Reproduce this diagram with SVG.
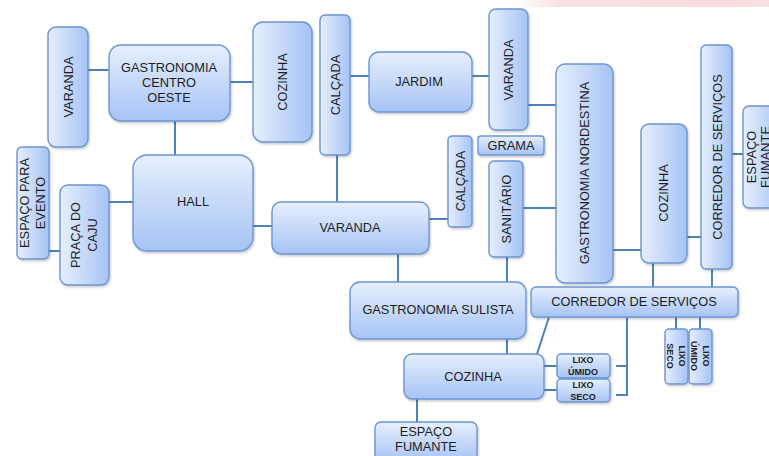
<svg xmlns="http://www.w3.org/2000/svg" width="769" height="456" viewBox="0 0 769 456">
<defs>
<linearGradient id="gv" x1="0" y1="0" x2="1" y2="0"><stop offset="0" stop-color="#e6effd"/><stop offset="1" stop-color="#a6c3f4"/></linearGradient>
<linearGradient id="gh" x1="0" y1="0" x2="0" y2="1"><stop offset="0" stop-color="#e6effd"/><stop offset="1" stop-color="#a6c3f4"/></linearGradient>
<linearGradient id="pink" x1="0" y1="0" x2="1" y2="0"><stop offset="0" stop-color="#f3c0c0" stop-opacity="0"/><stop offset="0.2" stop-color="#f6c9c4" stop-opacity="0.6"/><stop offset="1" stop-color="#f8cfcf" stop-opacity="0.7"/></linearGradient>
<filter id="sh" x="-10%" y="-10%" width="130%" height="130%"><feDropShadow dx="1" dy="1.5" stdDeviation="1" flood-color="#000" flood-opacity="0.22"/></filter>
</defs>
<style>
.v{fill:url(#gv);stroke:#6b95d2;stroke-width:1.4;filter:url(#sh)}
.h{fill:url(#gh);stroke:#6b95d2;stroke-width:1.4;filter:url(#sh)}
text{font-family:"Liberation Sans",Arial,sans-serif;font-size:12.8px;fill:#1e1e1e;text-anchor:middle}
.s{font-size:9px;font-weight:bold}
#connectors line,#connectors polyline{stroke:#4f81bd;stroke-width:2;fill:none}
</style>
<rect x="515" y="0" width="254" height="7" fill="url(#pink)"/>
<g id="connectors">
<line x1="88" y1="70" x2="109" y2="70"/>
<line x1="230" y1="82" x2="253" y2="82"/>
<line x1="175" y1="121" x2="175" y2="155"/>
<line x1="350" y1="76" x2="369" y2="76"/>
<line x1="472" y1="76" x2="489" y2="76"/>
<line x1="528" y1="105" x2="556" y2="105"/>
<line x1="337" y1="155" x2="337" y2="202"/>
<line x1="253" y1="226" x2="272" y2="226"/>
<line x1="109" y1="202" x2="133" y2="202"/>
<line x1="49" y1="251" x2="60" y2="251"/>
<line x1="429" y1="219" x2="448" y2="219"/>
<line x1="398" y1="254" x2="398" y2="282"/>
<line x1="507" y1="257" x2="507" y2="282"/>
<line x1="523" y1="208" x2="556" y2="208"/>
<line x1="610" y1="250" x2="641" y2="250"/>
<line x1="687" y1="237" x2="701" y2="237"/>
<line x1="732" y1="154" x2="743" y2="154"/>
<line x1="653" y1="263" x2="653" y2="287"/>
<line x1="712" y1="269" x2="712" y2="287"/>
<line x1="676" y1="317" x2="676" y2="329"/>
<line x1="700" y1="317" x2="700" y2="329"/>
<line x1="507" y1="339" x2="507" y2="354"/>
<line x1="549" y1="317" x2="537" y2="354"/>
<polyline points="616,366 627,366 627,317"/>
<polyline points="616,395 627,395 627,366"/>
<line x1="544" y1="366" x2="557" y2="366"/>
<line x1="544" y1="390" x2="557" y2="390"/>
<line x1="417" y1="399" x2="417" y2="422"/>
</g>
<g id="varanda-oeste"><rect class="v" x="48" y="27" width="40" height="120" rx="8"/><text transform="translate(68,87) rotate(-90)" y="4.5">VARANDA</text></g>
<g id="gastronomia-centro-oeste"><rect class="h" x="109" y="45" width="121" height="76" rx="12"/><text x="169" y="71.5">GASTRONOMIA</text><text x="169" y="86.5">CENTRO</text><text x="169" y="102">OESTE</text></g>
<g id="cozinha-top"><rect class="v" x="253" y="22" width="59" height="120" rx="10"/><text transform="translate(282,82) rotate(-90)" y="4.5">COZINHA</text></g>
<g id="calcada-top"><rect class="v" x="320" y="15" width="30" height="140" rx="5"/><text transform="translate(335,85) rotate(-90)" y="4.5">CALÇADA</text></g>
<g id="jardim"><rect class="h" x="369" y="52" width="103" height="60" rx="10"/><text x="419" y="85.5">JARDIM</text></g>
<g id="varanda-norte"><rect class="v" x="489" y="9" width="39" height="121" rx="7"/><text transform="translate(508,70) rotate(-90)" y="4.5">VARANDA</text></g>
<g id="grama"><rect class="h" x="478" y="136" width="66" height="19" rx="3"/><text x="511" y="150">GRAMA</text></g>
<g id="gastronomia-nordestina"><rect class="v" x="556" y="64" width="57" height="219" rx="9"/><text transform="translate(584,173) rotate(-90)" y="4.5">GASTRONOMIA NORDESTINA</text></g>
<g id="cozinha-direita"><rect class="v" x="641" y="124" width="46" height="139" rx="8"/><text transform="translate(663,193) rotate(-90)" y="4.5">COZINHA</text></g>
<g id="corredor-vertical"><rect class="v" x="701" y="45" width="31" height="224" rx="5"/><text transform="translate(717,157) rotate(-90)" y="4.5">CORREDOR DE SERVIÇOS</text></g>
<g id="espaco-fumante-direita"><rect class="v" x="743" y="106" width="40" height="102" rx="6"/><text transform="translate(758,157) rotate(-90)"><tspan x="0" y="-2.5">ESPAÇO</tspan><tspan x="0" y="12">FUMANTE</tspan></text></g>
<g id="espaco-evento"><rect class="v" x="17" y="147" width="32" height="112" rx="5"/><text transform="translate(33,203) rotate(-90)"><tspan x="0" y="-4.5">ESPAÇO PARA</tspan><tspan x="0" y="11.5">EVENTO</tspan></text></g>
<g id="praca-caju"><rect class="v" x="60" y="185" width="49" height="100" rx="8"/><text transform="translate(84,235) rotate(-90)"><tspan x="0" y="-4.5">PRAÇA DO</tspan><tspan x="0" y="12.5">CAJU</tspan></text></g>
<g id="hall"><rect class="h" x="133" y="155" width="120" height="96" rx="14"/><text x="193" y="205.5">HALL</text></g>
<g id="varanda-centro"><rect class="h" x="272" y="202" width="157" height="52" rx="9"/><text x="350" y="231.5">VARANDA</text></g>
<g id="calcada-centro"><rect class="v" x="448" y="136" width="24" height="91" rx="4"/><text transform="translate(460,181) rotate(-90)" y="4.5">CALÇADA</text></g>
<g id="sanitario"><rect class="v" x="489" y="161" width="34" height="96" rx="5"/><text transform="translate(506,209) rotate(-90)" y="4.5">SANITÁRIO</text></g>
<g id="gastronomia-sulista"><rect class="h" x="350" y="282" width="176" height="57" rx="10"/><text x="438" y="313.5">GASTRONOMIA SULISTA</text></g>
<g id="corredor-horizontal"><rect class="h" x="531" y="287" width="207" height="30" rx="5"/><text x="634" y="305.5">CORREDOR DE SERVIÇOS</text></g>
<g id="cozinha-baixo"><rect class="h" x="404" y="354" width="140" height="45" rx="8"/><text x="473" y="380.5">COZINHA</text></g>
<g id="lixo-umido-h"><rect class="h" x="557" y="354" width="53" height="24" rx="4"/><text class="s" x="583" y="362.5">LIXO</text><text class="s" x="583" y="374.5">ÚMIDO</text></g>
<g id="lixo-seco-h"><rect class="h" x="557" y="379" width="53" height="23" rx="4"/><text class="s" x="583" y="387.5">LIXO</text><text class="s" x="583" y="399.5">SECO</text></g>
<g id="lixo-seco-v"><rect class="v" x="665" y="329" width="23" height="55" rx="4"/><text class="s" transform="translate(676,356) rotate(90)"><tspan x="0" y="-3">LIXO</tspan><tspan x="0" y="9">SECO</tspan></text></g>
<g id="lixo-umido-v"><rect class="v" x="689" y="329" width="23" height="55" rx="4"/><text class="s" transform="translate(700,356) rotate(90)"><tspan x="0" y="-3">LIXO</tspan><tspan x="0" y="9">ÚMIDO</tspan></text></g>
<g id="espaco-fumante-baixo"><rect class="h" x="375" y="422" width="102" height="40" rx="6"/><text x="426" y="435.5">ESPAÇO</text><text x="426" y="450.5">FUMANTE</text></g>
</svg>
